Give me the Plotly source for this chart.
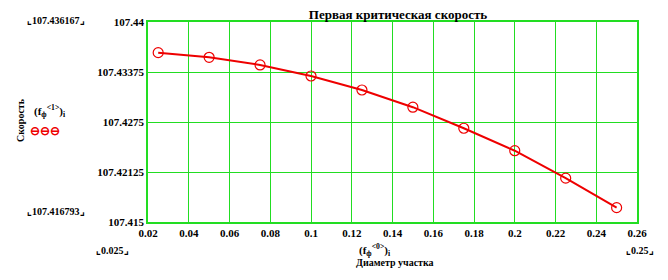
import plotly.graph_objects as go

diameter = [0.025, 0.05, 0.075, 0.1, 0.125, 0.15, 0.175, 0.2, 0.225, 0.25]
speed = [107.436167, 107.43559, 107.43463, 107.43325, 107.4315, 107.42935,
         107.42672, 107.42391, 107.42048, 107.416793]
x_ticks = [0.02, 0.04, 0.06, 0.08, 0.1, 0.12, 0.14, 0.16, 0.18, 0.2, 0.22, 0.24, 0.26]
x_tick_text = ["0.02", "0.04", "0.06", "0.08", "0.1", "0.12", "0.14", "0.16", "0.18", "0.2", "0.22", "0.24", "0.26"]
y_ticks = [107.415, 107.42125, 107.4275, 107.43375, 107.44]
y_tick_text = ["107.415", "107.42125", "107.4275", "107.43375", "107.44"]

GREEN = "#22dd22"
RED = "#ee0000"
FONT = "Liberation Serif"
L, R, T, B = 148, 31, 22, 58
W, H = 668, 280
PW, PH = W - L - R, H - T - B

fig = go.Figure()
fig.add_trace(go.Scatter(
    x=diameter, y=speed, mode="lines+markers",
    line=dict(color=RED, width=2),
    marker=dict(symbol="circle-open", size=10, color=RED, line=dict(width=1.2, color=RED)),
    showlegend=False, cliponaxis=False,
))

fig.update_layout(
    width=W, height=H,
    margin=dict(l=L, r=R, t=T, b=B),
    paper_bgcolor="white", plot_bgcolor="white",
    font=dict(family=FONT, size=11, color="black"),
    title=dict(text="<b>Первая критическая скорость</b>", x=398 / W, xanchor="center",
               y=1 - 14 / H, yanchor="middle", font=dict(family=FONT, size=13, color="black")),
)
fig.update_xaxes(
    range=[0.02, 0.26], tickvals=x_ticks, ticktext=["<b>%s</b>" % t for t in x_tick_text],
    showgrid=True, gridcolor=GREEN, gridwidth=1,
    showline=True, linecolor=GREEN, linewidth=1.5, mirror=True,
    zeroline=False, ticks="", tickfont=dict(family=FONT, size=11),
)
fig.update_yaxes(
    range=[107.415, 107.44], tickvals=y_ticks, ticktext=["<b>%s</b>" % t for t in y_tick_text],
    showgrid=True, gridcolor=GREEN, gridwidth=1,
    showline=True, linecolor=GREEN, linewidth=1.5, mirror=True,
    zeroline=False, ticks="", tickfont=dict(family=FONT, size=11),
)

def ann(text, x, y, size=11, **kw):
    fig.add_annotation(text=text, x=(x - L) / PW, y=(H - B - y) / PH, xref="paper", yref="paper",
                       showarrow=False, font=dict(family=FONT, size=size, color=kw.pop("color", "black")),
                       xanchor=kw.pop("xanchor", "center"), yanchor=kw.pop("yanchor", "middle"), **kw)

ann("<b>⌞107.436167⌟</b>", 56, 20, size=10)
ann("<b>⌞107.416793⌟</b>", 56, 211, size=10)
ann("<b>⌞0.025⌟</b>", 112, 250, size=10)
ann("<b>⌞0.25⌟</b>", 640, 250, size=10)
ann("<b>Скорость</b>", 20, 120, size=10, textangle=-90)
ann("<b>(f<sub>ф</sub><sup>&lt;1&gt;</sup>)<sub>i</sub></b>", 50, 111, size=11)
ann("<b>⊖⊖⊖</b>", 45, 131, size=12, color=RED)
ann("<b>(f<sub>ф</sub><sup>&lt;0&gt;</sup>)<sub>i</sub></b>", 375, 250, size=11)
ann("<b>Диаметр участка</b>", 395, 262, size=10)

fig.write_html("out.html")
